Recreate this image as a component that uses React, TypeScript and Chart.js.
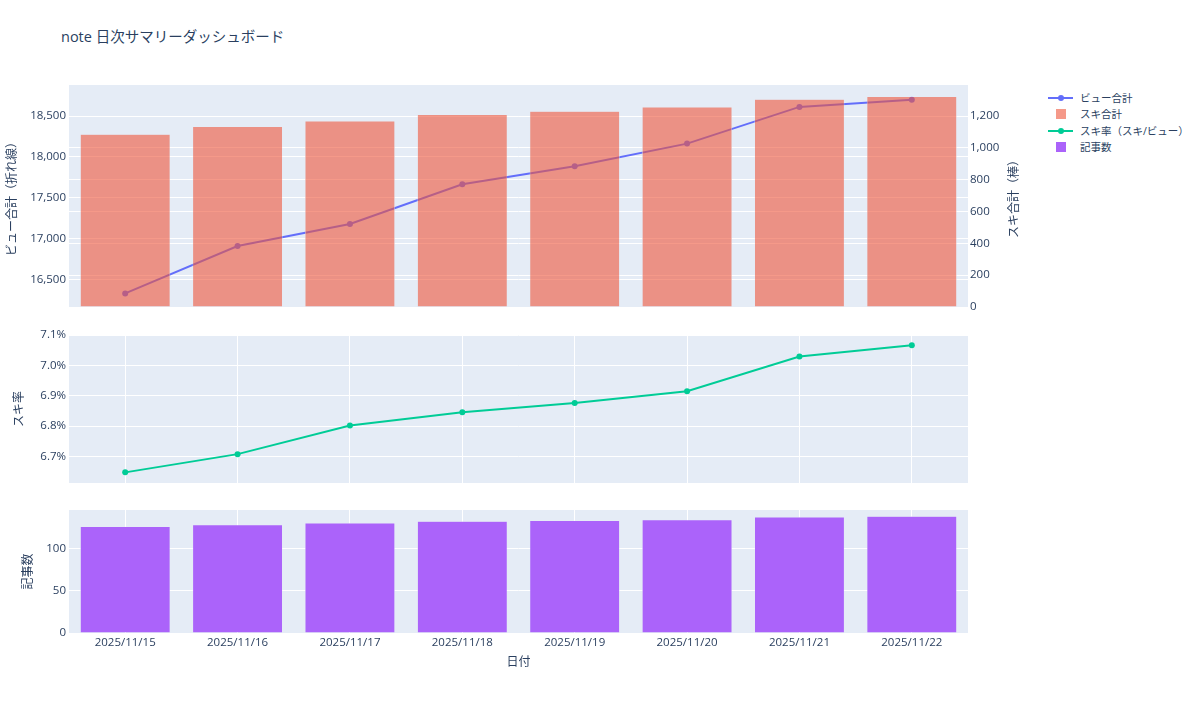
import { useEffect, useRef } from 'react';
import { Chart, registerables } from 'chart.js';

Chart.register(...registerables);

const dates = ['2025/11/15', '2025/11/16', '2025/11/17', '2025/11/18', '2025/11/19', '2025/11/20', '2025/11/21', '2025/11/22'];
const viewTotals = [16330, 16910, 17180, 17665, 17885, 18163, 18612, 18700];
const likeTotals = [1086, 1134, 1168, 1209, 1230, 1256, 1306, 1322];
const likeRates = [6.648, 6.708, 6.802, 6.846, 6.876, 6.915, 7.029, 7.066];
const articleCounts = [126, 128, 130, 132, 133, 134, 137, 138];

const viewTicks = [16500, 17000, 17500, 18000, 18500];
const likeTicks = [0, 200, 400, 600, 800, 1000, 1200];
const rateTicks = [6.7, 6.8, 6.9, 7.0, 7.1];
const articleTicks = [0, 50, 100];

const FONT = "'Open Sans', 'Noto Sans CJK JP', sans-serif";
const TEXT = '#2a3f5f';
const PLOT_BG = '#E5ECF6';
const BLUE = '#636EFA';
const RED_BAR = 'rgba(239, 85, 59, 0.6)';
const GREEN = '#00CC96';
const PURPLE = '#AB63FA';

const tickFont = { family: FONT, size: 11.5 };
const titleFont = { family: FONT, size: 12 };

const fixWidth = (w: number) => (scale: any) => {
  scale.width = w;
};
const fixHeight = (h: number) => (scale: any) => {
  scale.height = h;
};
const setTicks = (vals: number[]) => (scale: any) => {
  scale.ticks = vals.map((value) => ({ value }));
};

// plotly style grey plot area
const plotBg = {
  id: 'plotBg',
  beforeDraw(chart: any) {
    const { ctx, chartArea: a } = chart;
    ctx.save();
    ctx.fillStyle = PLOT_BG;
    ctx.fillRect(a.left, a.top, a.width, a.height);
    ctx.restore();
  },
};

// right axis title reads bottom-to-top like the left one
const rightTitle = {
  id: 'rightTitle',
  afterDraw(chart: any) {
    const { ctx, chartArea: a } = chart;
    const s = chart.scales.y1;
    ctx.save();
    ctx.translate(s.right - 15, (a.top + a.bottom) / 2);
    ctx.rotate(-Math.PI / 2);
    ctx.font = `12px ${FONT}`;
    ctx.fillStyle = TEXT;
    ctx.textAlign = 'center';
    ctx.textBaseline = 'middle';
    ctx.fillText('スキ合計（棒）', 0, 0);
    ctx.restore();
  },
};

const yAxis = (ticks: number[], min: number, max: number, title: string, titlePad: number, fmt: (v: number) => string) => ({
  position: 'left',
  min,
  max,
  afterFit: fixWidth(69),
  afterBuildTicks: setTicks(ticks),
  ticks: { color: TEXT, font: tickFont, padding: 3, callback: (v: any) => fmt(Number(v)) },
  grid: { color: '#ffffff', drawTicks: false },
  border: { display: false },
  title: { display: true, text: title, color: TEXT, font: titleFont, padding: { top: titlePad, bottom: 0 } },
});

const base = {
  animation: false,
  responsive: true,
  maintainAspectRatio: false,
  plugins: { legend: { display: false }, tooltip: { enabled: false } },
};

const ViewsLikesChart = () => {
  const ref = useRef<HTMLCanvasElement>(null);
  useEffect(() => {
    if (!ref.current) return;
    const chart = new Chart(ref.current, {
      type: 'bar',
      data: {
        labels: dates,
        datasets: [
          {
            type: 'line',
            label: 'ビュー合計',
            data: viewTotals,
            yAxisID: 'y',
            borderColor: BLUE,
            backgroundColor: BLUE,
            borderWidth: 2,
            pointRadius: 3,
            pointBorderWidth: 0,
            order: 2,
          },
          {
            type: 'bar',
            label: 'スキ合計',
            data: likeTotals,
            yAxisID: 'y1',
            backgroundColor: RED_BAR,
            borderColor: PLOT_BG,
            borderWidth: 0.5,
            barPercentage: 0.8,
            categoryPercentage: 1,
            order: 1,
          },
        ],
      } as any,
      options: {
        ...base,
        layout: { padding: { top: 10, bottom: 10, left: 0, right: 0 } },
        scales: {
          x: { display: false, offset: true },
          y: yAxis(viewTicks, 16164, 18880, 'ビュー合計（折れ線）', 5, (v) => v.toLocaleString('en-US')),
          y1: {
            position: 'right',
            min: 0,
            max: 1395,
            afterFit: fixWidth(62),
            afterBuildTicks: setTicks(likeTicks),
            ticks: { color: TEXT, font: tickFont, padding: 2, callback: (v: any) => Number(v).toLocaleString('en-US') },
            grid: { color: '#ffffff', drawTicks: false },
            border: { display: false },
          },
        },
      } as any,
      plugins: [plotBg, rightTitle],
    });
    return () => chart.destroy();
  }, []);
  return <canvas ref={ref} />;
};

const RateChart = () => {
  const ref = useRef<HTMLCanvasElement>(null);
  useEffect(() => {
    if (!ref.current) return;
    const chart = new Chart(ref.current, {
      type: 'line',
      data: {
        labels: dates,
        datasets: [
          {
            label: 'スキ率（スキ/ビュー）',
            data: likeRates,
            borderColor: GREEN,
            backgroundColor: GREEN,
            borderWidth: 2,
            pointRadius: 3,
            pointBorderWidth: 0,
          },
        ],
      },
      options: {
        ...base,
        layout: { padding: { top: 10, bottom: 10, left: 0, right: 12 } },
        scales: {
          x: {
            offset: true,
            afterFit: fixHeight(0),
            ticks: { display: false },
            grid: { color: '#ffffff', offset: false, drawTicks: false },
            border: { display: false },
          },
          y: yAxis(rateTicks, 6.613, 7.1, 'スキ率', 12, (v) => `${v.toFixed(1)}%`),
        },
      } as any,
      plugins: [plotBg],
    });
    return () => chart.destroy();
  }, []);
  return <canvas ref={ref} />;
};

const ArticlesChart = () => {
  const ref = useRef<HTMLCanvasElement>(null);
  useEffect(() => {
    if (!ref.current) return;
    const chart = new Chart(ref.current, {
      type: 'bar',
      data: {
        labels: dates,
        datasets: [
          {
            label: '記事数',
            data: articleCounts,
            backgroundColor: PURPLE,
            borderColor: PLOT_BG,
            borderWidth: 0.5,
            barPercentage: 0.8,
            categoryPercentage: 1,
          },
        ],
      },
      options: {
        ...base,
        layout: { padding: { top: 10, bottom: 0, left: 0, right: 12 } },
        scales: {
          x: {
            offset: true,
            afterFit: fixHeight(69),
            ticks: { color: TEXT, font: tickFont, padding: 3, maxRotation: 0, autoSkip: false },
            grid: { color: '#ffffff', offset: false, drawTicks: false },
            border: { display: false },
            title: { display: true, text: '日付', color: TEXT, font: titleFont, padding: { top: 0, bottom: 32 } },
          },
          y: yAxis(articleTicks, 0, 145.4, '記事数', 21, (v) => String(v)),
        },
      } as any,
      plugins: [plotBg],
    });
    return () => chart.destroy();
  }, []);
  return <canvas ref={ref} />;
};

const legendItems = [
  { label: 'ビュー合計', kind: 'line', color: BLUE },
  { label: 'スキ合計', kind: 'bar', color: RED_BAR },
  { label: 'スキ率（スキ/ビュー）', kind: 'line', color: GREEN },
  { label: '記事数', kind: 'bar', color: PURPLE },
];

const Legend = () => (
  <div style={{ position: 'absolute', left: 1048, top: 90, fontFamily: FONT, fontSize: 10.5, color: TEXT }}>
    {legendItems.map((it) => (
      <div key={it.label} style={{ position: 'relative', height: 16.3, lineHeight: '16px', whiteSpace: 'nowrap' }}>
        {it.kind === 'line' ? (
          <>
            <span style={{ position: 'absolute', left: 0, top: 7, width: 25, height: 2, background: it.color }} />
            <span style={{ position: 'absolute', left: 10, top: 5, width: 6, height: 6, borderRadius: 3, background: it.color }} />
          </>
        ) : (
          <span style={{ position: 'absolute', left: 8, top: 3, width: 10, height: 10, background: it.color }} />
        )}
        <span style={{ position: 'absolute', left: 32, top: 0 }}>{it.label}</span>
      </div>
    ))}
  </div>
);

const App = () => (
  <div style={{ position: 'absolute', left: 0, top: 0, width: 1200, height: 702, background: '#ffffff', overflow: 'hidden' }}>
    <div style={{ position: 'absolute', left: 61, top: 27, height: 20, lineHeight: '20px', fontFamily: FONT, fontSize: 14.5, color: TEXT, whiteSpace: 'nowrap' }}>
      note 日次サマリーダッシュボード
    </div>
    <div style={{ position: 'absolute', left: 0, top: 75, width: 1030, height: 242 }}>
      <ViewsLikesChart />
    </div>
    <div style={{ position: 'absolute', left: 0, top: 325, width: 980, height: 168 }}>
      <RateChart />
    </div>
    <div style={{ position: 'absolute', left: 0, top: 500, width: 980, height: 202 }}>
      <ArticlesChart />
    </div>
    <Legend />
  </div>
);

export default App;
